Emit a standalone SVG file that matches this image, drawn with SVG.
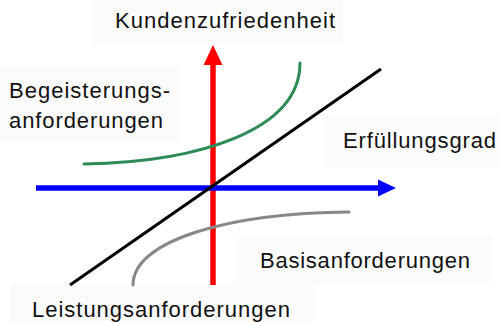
<svg xmlns="http://www.w3.org/2000/svg" width="500" height="322" viewBox="0 0 500 322">
<style>
.bg{fill:#fbfbfb;stroke:none}
.lbl{font-family:"Liberation Sans",Arial,sans-serif;font-size:22px;fill:#111}
.curve{fill:none;stroke-width:3;stroke-linecap:round}
</style>
<rect width="500" height="322" fill="#ffffff"/>
<g id="label-boxes">
<rect class="bg" x="92" y="0" width="251" height="45"/>
<rect class="bg" x="0" y="66" width="180" height="76"/>
<rect class="bg" x="323" y="115" width="177" height="52"/>
<rect class="bg" x="236" y="236" width="257" height="49"/>
<rect class="bg" x="10" y="283" width="303" height="39"/>
</g>
<g id="connectors">
<g id="axis-y">
<line x1="213" y1="285" x2="213" y2="63" stroke="#ff0000" stroke-width="5.5"/>
<polygon points="213,45 222.5,65 203.5,65" fill="#ff0000"/>
</g>
<g id="axis-x">
<line x1="36" y1="188" x2="380" y2="188" stroke="#0000ff" stroke-width="5.5"/>
<polygon points="396,188 378,179.5 378,196.5" fill="#0000ff"/>
</g>
<path id="basis-curve" class="curve" stroke="#888888" d="M133,285 C133,240 230,213 349,212"/>
<path id="begeisterung-curve" class="curve" stroke="#2e8b57" d="M84,164 C200,162 300,130 300,63"/>
<line id="leistung-line" x1="70" y1="285" x2="381" y2="69" stroke="#000000" stroke-width="3"/>
</g>
<g id="node-kundenzufriedenheit"><text class="lbl" x="115" y="28" textLength="220" lengthAdjust="spacing">Kundenzufriedenheit</text></g>
<g id="node-begeisterung"><text class="lbl" x="9" y="98" textLength="161" lengthAdjust="spacing">Begeisterungs-</text><text class="lbl" x="9" y="128" textLength="154" lengthAdjust="spacing">anforderungen</text></g>
<g id="node-erfuellungsgrad"><text class="lbl" x="343" y="148" textLength="153" lengthAdjust="spacing">Erfüllungsgrad</text></g>
<g id="node-basis"><text class="lbl" x="260" y="268" textLength="210" lengthAdjust="spacing">Basisanforderungen</text></g>
<g id="node-leistung"><text class="lbl" x="32" y="317" textLength="258" lengthAdjust="spacing">Leistungsanforderungen</text></g>
</svg>
